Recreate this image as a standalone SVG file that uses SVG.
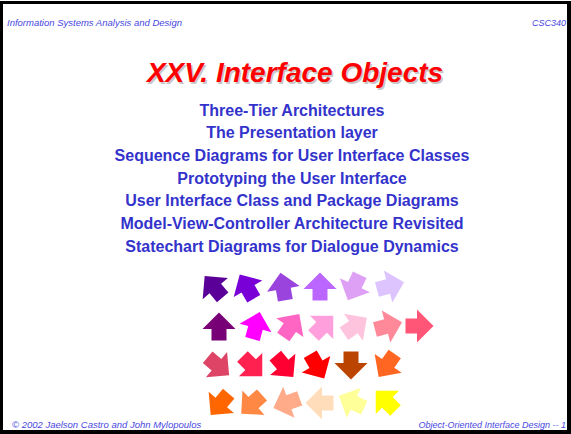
<svg xmlns="http://www.w3.org/2000/svg" width="571" height="434" viewBox="0 0 571 434">
  <style>
    .small { font-family: "Liberation Sans", Arial, sans-serif; font-style: italic; font-size: 9px; fill: #4848E0; }
    .wide { font-size: 9.5px; }
    .title { font-family: "Liberation Sans", Arial, sans-serif; font-style: italic; font-weight: bold; font-size: 28px; text-anchor: middle; }
    .topic { font-family: "Liberation Sans", Arial, sans-serif; font-weight: bold; font-size: 16px; fill: #3333CC; text-anchor: middle; }
  </style>
  <defs>
    <!-- block arrow pointing up, centred on the origin -->
    <path id="arrow" d="M0,-14.5 L16.5,2 L7.5,2 L7.5,13.5 L-7.5,13.5 L-7.5,2 L-16.5,2 Z"/>
  </defs>

  <!-- slide frame -->
  <rect x="0" y="1" width="571" height="433" fill="#000"/>
  <rect x="3" y="4" width="564" height="426" fill="#fff"/>

  <!-- header and footer -->
  <g id="header">
    <text class="small wide" x="7" y="26">Information Systems Analysis and Design</text>
    <text class="small" x="566" y="26" text-anchor="end">CSC340</text>
  </g>
  <g id="footer">
    <text class="small wide" x="12" y="428">© 2002 Jaelson Castro and John Mylopoulos</text>
    <text class="small" x="566" y="428" text-anchor="end">Object-Oriented Interface Design -- 1</text>
  </g>

  <!-- title with drop shadow -->
  <g id="title">
    <text class="title" x="296.5" y="83.5" fill="#C8C8C8">XXV. Interface Objects</text>
    <text class="title" x="295" y="82" fill="#FF0000">XXV. Interface Objects</text>
  </g>

  <!-- topic list -->
  <g id="topics">
    <text class="topic" x="292" y="115.5">Three-Tier Architectures</text>
    <text class="topic" x="292" y="138">The Presentation layer</text>
    <text class="topic" x="292" y="161">Sequence Diagrams for User Interface Classes</text>
    <text class="topic" x="292" y="183.5">Prototyping the User Interface</text>
    <text class="topic" x="292" y="206">User Interface Class and Package Diagrams</text>
    <text class="topic" x="292" y="229">Model-View-Controller Architecture Revisited</text>
    <text class="topic" x="292" y="251.5">Statechart Diagrams for Dialogue Dynamics</text>
  </g>

  <!-- decorative rotating arrows -->
  <g id="arrows">
    <use href="#arrow" fill="#5A0099" transform="translate(214,287) rotate(-40)"/>
    <use href="#arrow" fill="#7A00D8" transform="translate(247,287) rotate(-30)"/>
    <use href="#arrow" fill="#9A44DD" transform="translate(283,287) rotate(-10)"/>
    <use href="#arrow" fill="#BB66FF" transform="translate(320,287)"/>
    <use href="#arrow" fill="#DDA0F5" transform="translate(354,287) rotate(205)"/>
    <use href="#arrow" fill="#DDC4FF" transform="translate(390,286) rotate(75)"/>

    <use href="#arrow" fill="#770077" transform="translate(219,327)"/>
    <use href="#arrow" fill="#FF00FF" transform="translate(256,326) rotate(15)"/>
    <use href="#arrow" fill="#FF66C4" transform="translate(291,326) rotate(35)"/>
    <use href="#arrow" fill="#FFA0DD" transform="translate(323,326) rotate(45)"/>
    <use href="#arrow" fill="#FFC4DD" transform="translate(355,326) rotate(55)"/>
    <use href="#arrow" fill="#FF8899" transform="translate(388,326) rotate(75)"/>
    <use href="#arrow" fill="#FF5577" transform="translate(419,326) rotate(90)"/>

    <use href="#arrow" fill="#DD4466" transform="translate(218,366) rotate(130)"/>
    <use href="#arrow" fill="#FF2250" transform="translate(252,366) rotate(135)"/>
    <use href="#arrow" fill="#FF0033" transform="translate(284,366) rotate(140)"/>
    <use href="#arrow" fill="#FF0000" transform="translate(317,366) rotate(150)"/>
    <use href="#arrow" fill="#BB4400" transform="translate(351,365) rotate(180)"/>
    <use href="#arrow" fill="#FF6622" transform="translate(387,365) rotate(215)"/>

    <use href="#arrow" fill="#FF6600" transform="translate(220,404) rotate(220)"/>
    <use href="#arrow" fill="#FF8844" transform="translate(252,404) rotate(228)"/>
    <use href="#arrow" fill="#FFAA88" transform="translate(287,403) rotate(250)"/>
    <use href="#arrow" fill="#FFDDBB" transform="translate(320,403) rotate(270)"/>
    <use href="#arrow" fill="#FFFF99" transform="translate(352,402) rotate(295)"/>
    <use href="#arrow" fill="#FFFF00" transform="translate(386,401) rotate(315)"/>
  </g>
</svg>
